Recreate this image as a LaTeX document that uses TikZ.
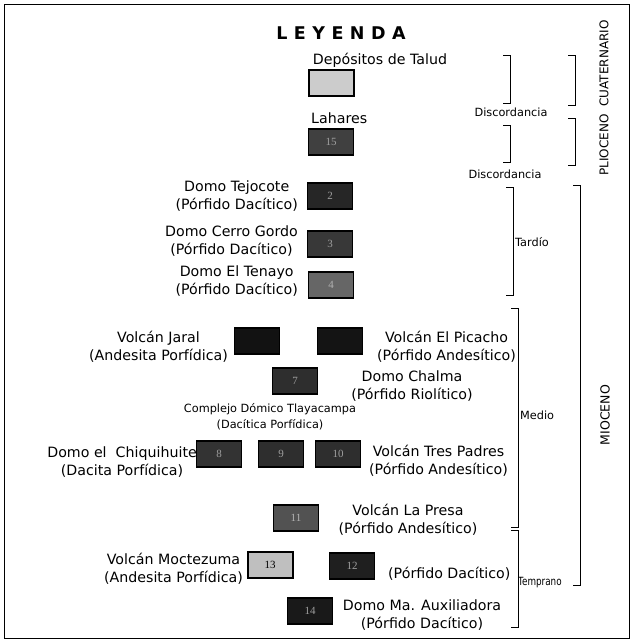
\documentclass[tikz,border=0pt]{standalone}
\usepackage{graphicx}
\usepackage{fontspec}
\setmainfont{DejaVu Sans}
\newfontfamily\numfont{Liberation Serif}
\begin{document}
\begin{tikzpicture}[x=1pt,y=-1pt,
  lbl/.style={font=\fontsize{14.2}{18}\selectfont, align=center, inner sep=0pt},
  small/.style={font=\fontsize{11.3}{16}\selectfont, align=center, inner sep=0pt},
  rock/.style={draw=black, line width=1.2pt, minimum width=45pt, minimum height=26pt, inner sep=0pt, text=gray!75, font=\numfont\fontsize{11}{11}\selectfont},
  brk/.style={line width=0.9pt, line cap=rect}]
\useasboundingbox (0,0) rectangle (633,642);
\draw[line width=0.8pt] (4,4) rectangle (629,638);
% title
\node[inner sep=0pt, font=\bfseries\fontsize{17.5}{17.5}\selectfont] (title) at (341,33) {L\hspace{6.5pt}E\hspace{6.5pt}Y\hspace{6.5pt}E\hspace{6.5pt}N\hspace{6.5pt}D\hspace{6.5pt}A};
% boxes
\node[rock, fill=black!20, line width=2pt] (dep) at (331,83) {};
\node[rock, fill=black!75] (lah) at (331,142) {15};
\node[rock, fill=black!85] (tej) at (330,196) {2};
\node[rock, fill=black!78] (cer) at (330,244) {3};
\node[rock, fill=black!60, text=black!30] (ten) at (331,285) {4};
\node[rock, fill=black!93] (jar) at (257,341) {};
\node[rock, fill=black!92] (pic) at (340,341) {};
\node[rock, fill=black!82] (cha) at (295,381) {7};
\node[rock, fill=black!80] (chi) at (219,454) {8};
\node[rock, fill=black!82] (tla) at (281,454) {9};
\node[rock, fill=black!82] (tre) at (338,454) {10};
\node[rock, fill=black!68, text=black!30] (pre) at (296,518) {11};
\node[rock, fill=black!25, line width=2pt, text=black] (moc) at (270,565) {13};
\node[rock, fill=black!88] (d12) at (352,566) {12};
\node[rock, fill=black!90] (aux) at (310,611) {14};
% labels
\node[lbl] (tdep) at (380,60) {Depósitos de Talud};
\node[lbl, anchor=west] (tlah) at (311,118) {Lahares};
\node[lbl, anchor=east] (ttej) at (298,196) {Domo Tejocote\\(Pórfido Dacítico)};
\node[lbl, anchor=east] (tcer) at (298,241) {Domo Cerro Gordo\\(Pórfido Dacítico)};
\node[lbl, anchor=east] (tten) at (298,281) {Domo El Tenayo\\(Pórfido Dacítico)};
\node[lbl, anchor=east] (tjar) at (228,347) {Volcán Jaral\\(Andesita Porfídica)};
\node[lbl, anchor=west] (tpic) at (377,347) {Volcán El Picacho\\(Pórfido Andesítico)};
\node[lbl] (tcha) at (412,386) {Domo Chalma\\(Pórfido Riolítico)};
\node[small] (ttla) at (270,417) {Complejo Dómico Tlayacampa\\(Dacítica Porfídica)};
\node[lbl, anchor=east] (tchi) at (197,462) {Domo el\ \ Chiquihuite\\(Dacita Porfídica)};
\node[lbl, anchor=west] (ttre) at (369,461) {Volcán Tres Padres\\(Pórfido Andesítico)};
\node[lbl] (tpre) at (408,520) {Volcán La Presa\\(Pórfido Andesítico)};
\node[lbl, anchor=east] (tmoc) at (243,569) {Volcán Moctezuma\\(Andesita Porfídica)};
\node[lbl, anchor=west] (td12) at (388,574) {(Pórfido Dacítico)};
\node[lbl] (taux) at (422,615) {Domo Ma. Auxiliadora\\(Pórfido Dacítico)};
% brackets
\draw[brk] (503,55) -- (510,55) -- (510,103) -- (503,103);
\draw[brk] (503,125) -- (510,125) -- (510,162) -- (503,162);
\draw[brk] (568,55) -- (575,55) -- (575,105) -- (568,105);
\draw[brk] (568,118) -- (575,118) -- (575,165) -- (568,165);
\draw[brk] (506,187) -- (513,187) -- (513,295) -- (506,295);
\draw[brk] (511,308) -- (518,308) -- (518,527) -- (511,527);
\draw[brk] (511,530) -- (518,530) -- (518,627) -- (511,627);
\draw[brk] (573,185) -- (580,185) -- (580,585) -- (573,585);
\node[small] (disc1) at (511,112) {Discordancia};
\node[small] (disc2) at (505,174) {Discordancia};
\node[small, anchor=west] (tard) at (515,242) {Tardío};
\node[small, anchor=west] (medio) at (520,415) {Medio};
\node[small, anchor=west] (temp) at (518,583) {\scalebox{0.78}[1]{Temprano}};
\node[small, rotate=90, font=\fontsize{12}{16}\selectfont] (plio) at (604,98) {PLIOCENO\ \ CUATERNARIO};
\node[small, rotate=90, font=\fontsize{12.5}{16}\selectfont] (mio) at (605,415) {MIOCENO};
\end{tikzpicture}
\end{document}
